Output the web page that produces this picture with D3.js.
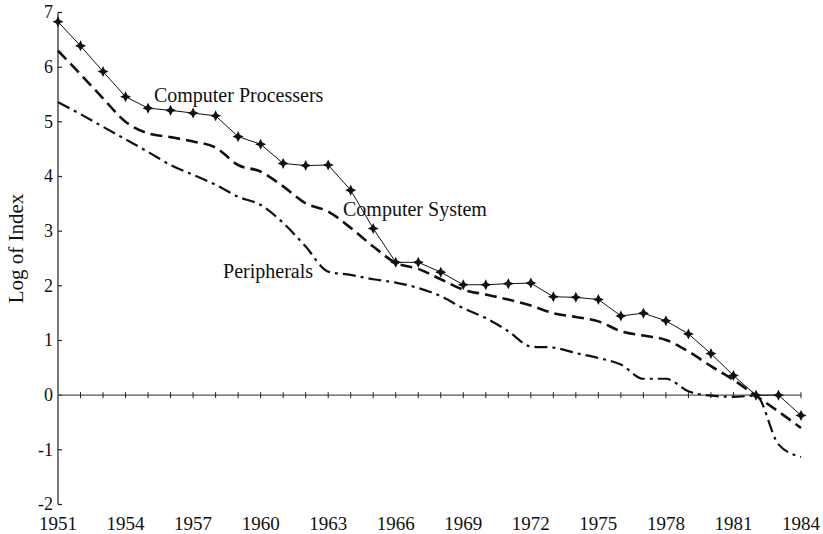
<!DOCTYPE html>
<html>
<head>
<meta charset="utf-8">
<script src="https://cdn.jsdelivr.net/npm/d3@7"></script>
<style>
body { margin: 0; background: #fff; }
text { font-family: "Liberation Serif", "Times New Roman", serif; fill: #111; }
</style>
</head>
<body>
<div id="chart"></div>
<script>
var years = d3.range(1951, 1985);
var processers = [6.83, 6.39, 5.92, 5.46, 5.25, 5.21, 5.16, 5.11, 4.73, 4.59,
    4.24, 4.20, 4.21, 3.75, 3.05, 2.43, 2.43, 2.25, 2.02, 2.02,
    2.04, 2.05, 1.80, 1.79, 1.75, 1.45, 1.50, 1.36, 1.12, 0.76,
    0.36, 0.00, 0.00, -0.37];
var system = [6.30, 5.87, 5.43, 5.00, 4.79, 4.72, 4.64, 4.53, 4.21, 4.09,
    3.82, 3.51, 3.36, 3.06, 2.72, 2.42, 2.31, 2.12, 1.93, 1.84,
    1.75, 1.64, 1.50, 1.43, 1.35, 1.17, 1.09, 1.01, 0.80, 0.53,
    0.28, -0.01, -0.30, -0.60];
var peripherals = [5.36, 5.14, 4.91, 4.68, 4.45, 4.21, 4.03, 3.85, 3.63, 3.48,
    3.15, 2.72, 2.26, 2.20, 2.12, 2.06, 1.96, 1.81, 1.59, 1.41,
    1.17, 0.89, 0.87, 0.77, 0.68, 0.56, 0.30, 0.30, 0.07, -0.01,
    -0.03, -0.01, -0.90, -1.13];
var yTicks = [-2, -1, 0, 1, 2, 3, 4, 5, 6, 7];
var xTickLabels = [1951, 1954, 1957, 1960, 1963, 1966, 1969, 1972, 1975, 1978, 1981, 1984];
// label anchors in data units (year, value)
var notes = [
    {text: "Computer Processers", year: 1955.26, value: 5.37},
    {text: "Computer System", year: 1963.66, value: 3.27},
    {text: "Peripherals", year: 1958.33, value: 2.15}
];

var width = 823, height = 534;
var x = d3.scaleLinear().domain([1951, 1984]).range([58, 801]);
var y = d3.scaleLinear().domain([-2, 7]).range([504.5, 12.5]);

var svg = d3.select("#chart").append("svg")
    .attr("width", width)
    .attr("height", height);

// left axis
var yAxis = svg.append("g").attr("transform", "translate(" + x(1951) + ",0)");
yAxis.append("line")
    .attr("y1", y(7)).attr("y2", y(-2))
    .attr("stroke", "#222").attr("stroke-width", 1.2);
yAxis.selectAll(".ytick").data(yTicks).enter().append("line")
    .attr("class", "ytick")
    .attr("x1", 0).attr("x2", 4)
    .attr("y1", d => y(d)).attr("y2", d => y(d))
    .attr("stroke", "#222").attr("stroke-width", 1.2);
yAxis.selectAll(".ylab").data(yTicks).enter().append("text")
    .attr("class", "ylab")
    .attr("x", -5)
    .attr("y", d => y(d))
    .attr("dy", "0.32em")
    .attr("text-anchor", "end")
    .style("font-size", "18px")
    .text(d => d);

svg.append("text")
    .attr("transform", "translate(23," + ((y(7) + y(-2)) / 2 - 10) + ") rotate(-90)")
    .attr("text-anchor", "middle")
    .style("font-size", "21px")
    .text("Log of Index");

// zero line with year ticks
svg.append("line")
    .attr("x1", x(1951)).attr("x2", x(1984))
    .attr("y1", y(0)).attr("y2", y(0))
    .attr("stroke", "#555").attr("stroke-width", 1.2);
svg.selectAll(".xtick").data(years.slice(1)).enter().append("line")
    .attr("class", "xtick")
    .attr("x1", d => x(d)).attr("x2", d => x(d))
    .attr("y1", y(0) - 3).attr("y2", y(0) + 3)
    .attr("stroke", "#222").attr("stroke-width", 1);

svg.selectAll(".xlab").data(xTickLabels).enter().append("text")
    .attr("class", "xlab")
    .attr("x", d => x(d))
    .attr("y", 530)
    .attr("text-anchor", "middle")
    .style("font-size", "19px")
    .text(d => d);

// series
var line = d3.line().x((d, i) => x(years[i])).y(d => y(d));
var smooth = d3.line().x((d, i) => x(years[i])).y(d => y(d)).curve(d3.curveMonotoneX);

svg.append("path").datum(peripherals)
    .attr("d", smooth)
    .attr("fill", "none").attr("stroke", "#111")
    .attr("stroke-width", 2.2)
    .attr("stroke-dasharray", "13,5,3,5");

svg.append("path").datum(system)
    .attr("d", smooth)
    .attr("fill", "none").attr("stroke", "#111")
    .attr("stroke-width", 2.6)
    .attr("stroke-dasharray", "12,6");

svg.append("path").datum(processers)
    .attr("d", line)
    .attr("fill", "none").attr("stroke", "#111")
    .attr("stroke-width", 1);

var star = "M0,-5.5L1.8,-1.8L5.5,0L1.8,1.8L0,5.5L-1.8,1.8L-5.5,0L-1.8,-1.8Z";
svg.selectAll(".mark").data(processers).enter().append("path")
    .attr("class", "mark")
    .attr("transform", (d, i) => "translate(" + x(years[i]) + "," + y(d) + ")")
    .attr("d", star)
    .attr("fill", "#111");

svg.selectAll(".note").data(notes).enter().append("text")
    .attr("class", "note")
    .attr("x", d => x(d.year))
    .attr("y", d => y(d.value))
    .style("font-size", "20px")
    .text(d => d.text);
</script>
</body>
</html>
